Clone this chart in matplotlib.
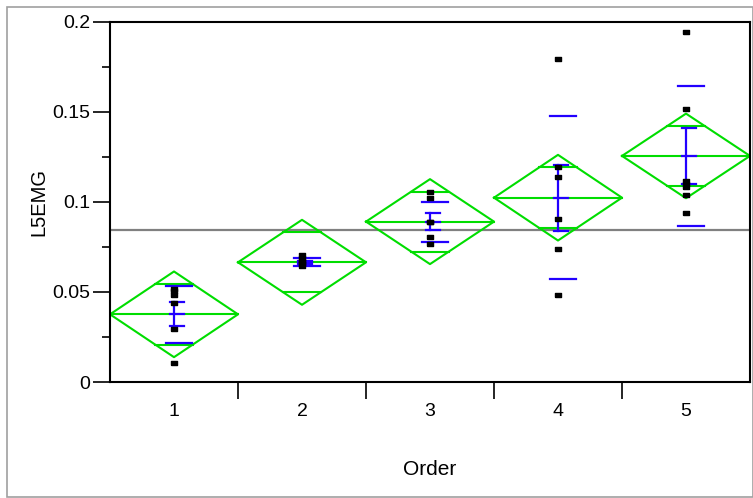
import numpy as np
import matplotlib
matplotlib.use("Agg")
import matplotlib.pyplot as plt
from matplotlib.patches import Rectangle
from matplotlib.ticker import MultipleLocator, FixedLocator, NullFormatter

plt.rcParams['font.family'] = ['Liberation Sans', 'DejaVu Sans']

orders = [1, 2, 3, 4, 5]
tick_labels = ["1", "2", "3", "4", "5"]

obs = [
    [0.0519, 0.0503, 0.0483, 0.0439, 0.0294, 0.0106],
    [0.0708, 0.0689, 0.0675, 0.0667, 0.0655, 0.0645],
    [0.1057, 0.1020, 0.0891, 0.0891, 0.0807, 0.0765],
    [0.1794, 0.1196, 0.1139, 0.0906, 0.0737, 0.0483],
    [0.1943, 0.1517, 0.1119, 0.1100, 0.1082, 0.1039, 0.0937],
]

# summary stats shown on the chart
means = [0.0376, 0.0665, 0.0891, 0.1024, 0.1256]
ci_half = [0.0238, 0.0236, 0.0236, 0.0238, 0.0235]
std_devs = [0.0160, 0.0023, 0.0111, 0.0451, 0.0389]
std_errs = [0.0066, 0.0010, 0.0048, 0.0184, 0.0157]
grand_mean = 0.0844

GREEN = "#00dd00"
BLUE = "#2200ff"

fig = plt.figure(figsize=(7.53, 4.98), dpi=100)
W, H = 753, 498
ax = fig.add_axes([110 / W, 1 - 382 / H, 640 / W, 360 / H])

# outer grey frame
fig.patches.append(Rectangle((7 / W, 1 - 497 / H), 746 / W, 490 / H, transform=fig.transFigure,
                             fill=False, edgecolor="#a0a0a0", lw=1.2))

ax.axhline(grand_mean, color="#808080", lw=1.6, zorder=1)

rect = [(-1, -0.6), (1, -0.6), (1, 0.6), (-1, 0.6), (-1, -0.6)]
ov = 0.5 * (1 - 1 / np.sqrt(2))

for x, m, ci, sd, se, ys in zip(orders, means, ci_half, std_devs, std_errs, obs):
    # means diamond
    dx = [x - 0.5, x, x + 0.5, x, x - 0.5]
    dy = [m, m + ci, m, m - ci, m]
    ax.plot(dx, dy, color=GREEN, lw=1.5, zorder=2)
    ax.plot([x - 0.5, x + 0.5], [m, m], color=GREEN, lw=1.5, zorder=2)
    for s in (1, -1):
        yo = m + s * ci / np.sqrt(2)
        ax.plot([x - ov, x + ov], [yo, yo], color=GREEN, lw=1.5, zorder=2)

    # std dev lines
    for s in (1, -1):
        ax.plot([x - 0.065, x + 0.137], [m + s * sd, m + s * sd], color=BLUE, lw=1.6, zorder=3)
    # std error bar
    ax.plot([x, x], [m - se, m + se], color=BLUE, lw=1.6, zorder=3)
    for yv in (m - se, m, m + se):
        ax.plot([x - 0.035, x + 0.075], [yv, yv], color=BLUE, lw=1.6, zorder=3)

    ax.plot([x] * len(ys), ys, linestyle="none", marker=rect, markersize=4.5,
            color="black", zorder=4)

ax.set_xlim(0.5, 5.5)
ax.set_ylim(0, 0.2)

ax.yaxis.set_major_locator(MultipleLocator(0.05))
ax.yaxis.set_minor_locator(MultipleLocator(0.025))
ax.yaxis.set_major_formatter(matplotlib.ticker.FuncFormatter(lambda v, p: f"{v:g}"))
ax.tick_params(axis="y", which="major", length=12, width=1.2, labelsize=14, pad=2)
ax.tick_params(axis="y", which="minor", length=6, width=1.2)

ax.xaxis.set_major_locator(FixedLocator(orders))
ax.set_xticklabels(tick_labels)
ax.xaxis.set_minor_locator(FixedLocator([1.5, 2.5, 3.5, 4.5]))
ax.xaxis.set_minor_formatter(NullFormatter())
ax.tick_params(axis="x", which="major", length=0, labelsize=14, pad=15)
ax.tick_params(axis="x", which="minor", length=12, width=1.2)

for sp in ax.spines.values():
    sp.set_linewidth(1.5)

ax.set_ylabel("L5EMG", fontsize=14.5, labelpad=3)
ax.set_xlabel("Order", fontsize=15, labelpad=29)

fig.savefig("out.png", dpi=100)
